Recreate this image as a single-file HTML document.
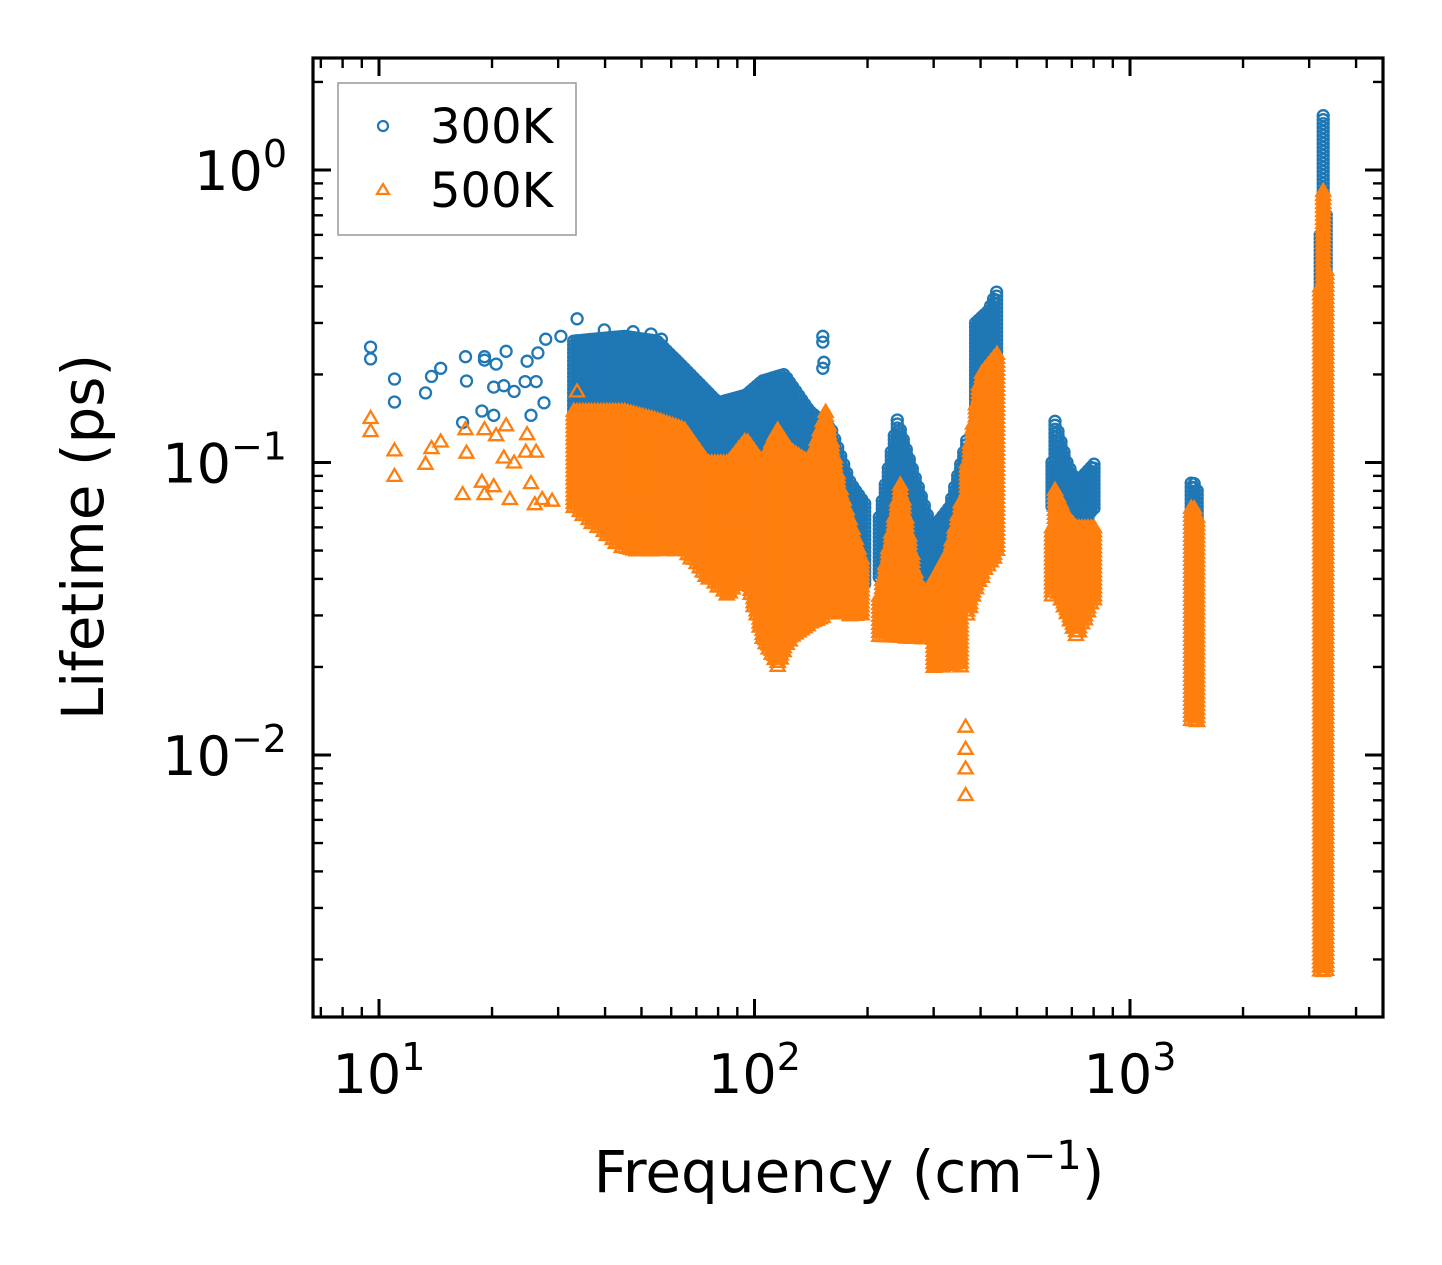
<!DOCTYPE html>
<html><head><meta charset="utf-8"><style>
html,body{margin:0;padding:0;background:#fff}
svg{display:block}
text{font-family:"DejaVu Sans","Liberation Sans",sans-serif;fill:#000}
</style></head><body>
<svg id="chart" width="1442" height="1265" viewBox="0 0 1442 1265" xmlns="http://www.w3.org/2000/svg">
<rect width="1442" height="1265" fill="#fff"/>
<g id="marks"></g>
<g id="axes"></g>
<g id="legend">
  <rect x="338" y="83" width="238" height="152" fill="#fff" stroke="#999" stroke-width="1.5"/>
  <circle cx="383" cy="126" r="5" fill="none" stroke="#1f77b4" stroke-width="2.2"/>
  <text x="430" y="143" font-size="48">300K</text>
  <polygon points="383,184 389,194 377,194" fill="none" stroke="#ff7f0e" stroke-width="2.2"/>
  <text x="430" y="207" font-size="48">500K</text>
</g>
<text x="849" y="1192" font-size="58" text-anchor="middle">Frequency (cm<tspan dy="-23" font-size="40">−1</tspan><tspan dy="23">)</tspan></text>
<text transform="translate(103,537) rotate(-90)" font-size="58" text-anchor="middle">Lifetime (ps)</text>
</svg>
<script>
// ---- data ----
const sparse300F = [9.5,9.5,11.0,11.0,13.3,13.8,14.6,17.0,17.1,16.7,19.1,19.1,20.5,21.8,20.2,21.5,22.9,18.8,20.2,24.8,24.5,26.2,26.5,27.8,30.5,33.7,39.8,47.5,53,56.5,25.4,27.5,152,152,153,152];
const sparse300T = [0.248,0.226,0.193,0.161,0.173,0.197,0.21,0.23,0.19,0.137,0.23,0.224,0.217,0.24,0.181,0.183,0.175,0.15,0.145,0.222,0.189,0.189,0.237,0.264,0.27,0.31,0.284,0.28,0.275,0.264,0.145,0.16,0.27,0.258,0.22,0.21];
const sparse500F = [9.5,9.5,11.0,11.0,13.3,13.8,14.6,17.0,17.1,16.7,19.1,19.1,18.8,20.2,20.5,21.8,21.5,22.9,22.3,24.8,24.6,26.2,25.4,26.0,27.2,28.9,33.7,365,365,365,365];
const sparse500T = [0.142,0.128,0.11,0.09,0.099,0.112,0.118,0.13,0.108,0.078,0.13,0.078,0.086,0.083,0.124,0.134,0.104,0.1,0.075,0.125,0.109,0.109,0.085,0.072,0.075,0.074,0.175,0.0125,0.0105,0.009,0.0073];
// dense bands: frequency knots, upper and lower lifetime envelopes
const bands300F = [[33,45,55,65,80,95,105,120,140,160,180,200],[215,240,260,290],[300,330,355,368],[388,420,448],[620,680,720,810],[1455,1480,1510],[3210,3280,3340]];
const bands300U = [[0.26,0.27,0.26,0.21,0.16,0.17,0.19,0.20,0.15,0.13,0.085,0.07],[0.065,0.14,0.10,0.065],[0.06,0.07,0.10,0.12],[0.30,0.33,0.40],[0.15,0.10,0.085,0.10],[0.085,0.085,0.08],[1.2,1.6,0.6]];
const bands300L = [[0.12,0.10,0.10,0.08,0.07,0.075,0.06,0.06,0.05,0.045,0.04,0.038],[0.04,0.045,0.04,0.04],[0.03,0.035,0.04,0.04],[0.05,0.07,0.09],[0.065,0.05,0.055,0.07],[0.015,0.015,0.015],[0.0019,0.0019,0.0019]];
const bands500F = [[33,45,55,65,75,85,95,105,115,125,140,155,170,195],[215,245,270,290],[300,330,360],[368,400,448],[620,680,720,810],[1455,1480,1510],[3210,3280,3340]];
const bands500U = [[0.15,0.15,0.14,0.13,0.10,0.10,0.12,0.10,0.13,0.11,0.10,0.15,0.08,0.045],[0.035,0.085,0.04,0.035],[0.04,0.05,0.08],[0.10,0.2,0.24],[0.085,0.065,0.06,0.06],[0.07,0.07,0.065],[0.6,0.9,0.4]];
const bands500L = [[0.07,0.05,0.05,0.05,0.04,0.035,0.04,0.025,0.02,0.025,0.028,0.03,0.03,0.03],[0.025,0.025,0.025,0.025],[0.02,0.02,0.02],[0.03,0.04,0.05],[0.04,0.03,0.025,0.035],[0.013,0.013,0.013],[0.0018,0.0018,0.0018]];
const xTicks = [10,100,1000];
const xTickExp = ["1","2","3"];
const yTicks = [1,0.1,0.01];
const yTickExp = ["0","−1","−2"];

// ---- axes ----
const L=313,R=1383,T=58,B=1017;
const X0=379, DX=375.5, Y0=170, DY=292.5;
const xs = f => X0 + (Math.log10(f)-1)*DX;
const ys = t => Y0 - Math.log10(t)*DY;
const NS="http://www.w3.org/2000/svg";
const marks=document.getElementById('marks');
const axes=document.getElementById('axes');
function mk(tag,attrs,parent){const e=document.createElementNS(NS,tag);for(const k in attrs)e.setAttribute(k,attrs[k]);parent.appendChild(e);return e;}

function marker(kind,f,t,g){
  const x=xs(f),y=ys(t);
  if(x<L||x>R||y<T||y>B) return;
  let e;
  if(kind==='c'){e=mk('circle',{cx:x.toFixed(1),cy:y.toFixed(1),r:5.5,fill:'none',stroke:'#1f77b4','stroke-width':2.3},g);}
  else{e=mk('polygon',{points:`${x.toFixed(1)},${(y-7).toFixed(1)} ${(x+7).toFixed(1)},${(y+5).toFixed(1)} ${(x-7).toFixed(1)},${(y+5).toFixed(1)}`,fill:'none',stroke:'#ff7f0e','stroke-width':2.3},g);}
  return e;
}
function interp(F,V,f){
  for(let i=0;i<F.length-1;i++){if(f>=F[i]&&f<=F[i+1]){const a=(Math.log10(f)-Math.log10(F[i]))/(Math.log10(F[i+1])-Math.log10(F[i]));return Math.pow(10,Math.log10(V[i])*(1-a)+Math.log10(V[i+1])*a);}}
  return V[V.length-1];
}
function drawSeries(kind,name,bF,bU,bL,sF,sT){
  const g=mk('g',{},marks);
  
  
  bF.forEach((F,bi)=>{
    const x1=xs(F[0]),x2=xs(F[F.length-1]);
    for(let x=x1;x<=x2+0.01;x+=3){
      const f=Math.pow(10,(x-X0)/DX+1);
      const yu=ys(interp(F,bU[bi],f)), yl=ys(interp(F,bL[bi],f));
      for(let y=yu;y<=yl;y+=4){ marker(kind,f,Math.pow(10,(Y0-y)/DY),g); }
    }
  });
  sF.forEach((f,i)=>marker(kind,f,sT[i],g));
}
drawSeries('c','series-300k',bands300F,bands300U,bands300L,sparse300F,sparse300T);
drawSeries('t','series-500k',bands500F,bands500U,bands500L,sparse500F,sparse500T);

// frame
const fr=mk('rect',{x:L,y:T,width:R-L,height:B-T,fill:'none',stroke:'#000','stroke-width':3.2},axes);


for(let d=0;d<=3;d++){for(let m=1;m<=9;m++){
  const f=m*Math.pow(10,d);const x=xs(f);if(x<L||x>R)continue;
  const len=m===1?18:10, w=m===1?3:2.4;
  mk('line',{x1:x,y1:B,x2:x,y2:B-len,stroke:'#000','stroke-width':w},axes);
  mk('line',{x1:x,y1:T,x2:x,y2:T+len,stroke:'#000','stroke-width':w},axes);
}}
for(let d=-3;d<=0;d++){for(let m=1;m<=9;m++){
  const t=m*Math.pow(10,d);const y=ys(t);if(y<T||y>B)continue;
  const len=m===1?18:10, w=m===1?3:2.4;
  mk('line',{x1:L,y1:y,x2:L+len,y2:y,stroke:'#000','stroke-width':w},axes);
  mk('line',{x1:R,y1:y,x2:R-len,y2:y,stroke:'#000','stroke-width':w},axes);
}}
xTicks.forEach((f,i)=>{
  const t=mk('text',{x:xs(f),y:1093,'font-size':54,'text-anchor':'middle'},axes);
  
  
  t.innerHTML=`10<tspan dy="-23" font-size="38">${xTickExp[i]}</tspan>`;
});
yTicks.forEach((v,i)=>{
  const t=mk('text',{x:287,y:ys(v)+20,'font-size':54,'text-anchor':'end'},axes);
  
  
  t.innerHTML=`10<tspan dy="-23" font-size="38">${yTickExp[i]}</tspan>`;
});
</script>
</body></html>
